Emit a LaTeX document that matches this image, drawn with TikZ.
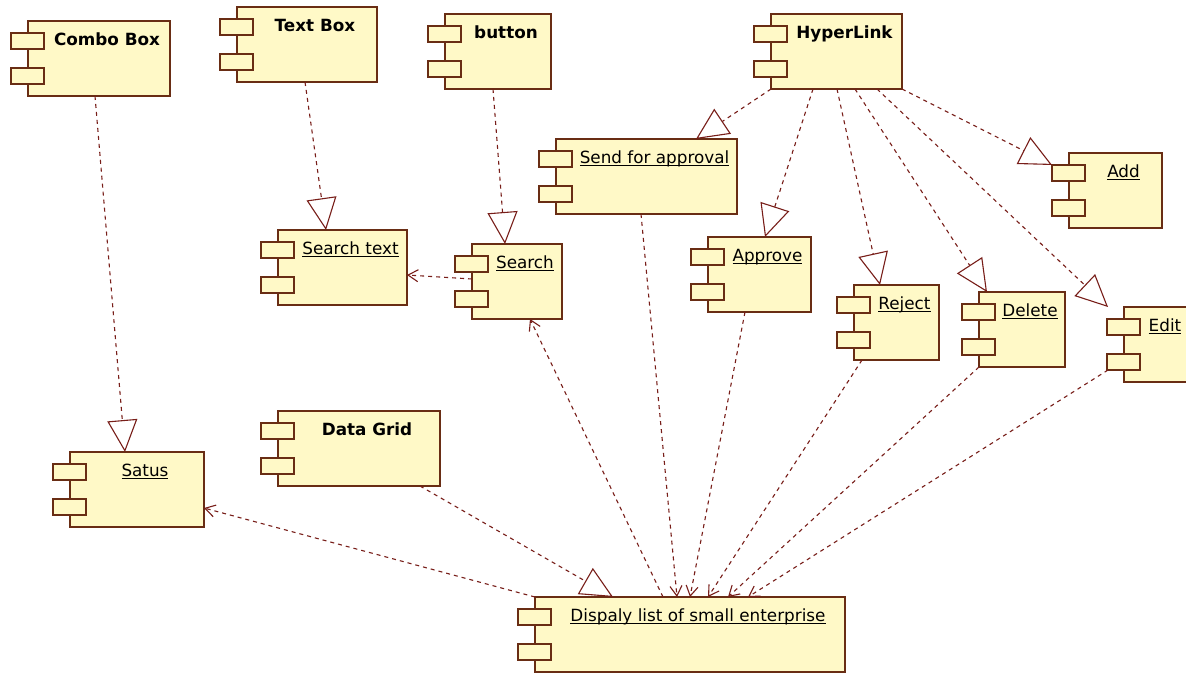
\documentclass[tikz,border=0pt]{standalone}
\usepackage{fontspec}
\setmainfont{DejaVu Sans}
\usetikzlibrary{arrows.meta,calc}

\definecolor{compfill}{RGB}{255,249,199}
\definecolor{compline}{RGB}{105,45,20}
\definecolor{linkline}{RGB}{120,30,25}

% underlined instance name, rule set just under the baseline
\newcommand\ulabel[1]{\setbox0\hbox{#1}\rlap{\rule[-2.6pt]{\wd0}{1.1pt}}\box0}

\tikzset{
  compbox/.style={rectangle, draw=compline, fill=compfill, line width=1.4pt,
    minimum height=75pt, inner sep=0pt, outer sep=0pt},
  compport/.style={draw=compline, fill=compfill, line width=1.4pt},
  typelabel/.style={anchor=base, inner sep=0pt, font=\fontsize{16.8}{19}\selectfont\bfseries},
  instlabel/.style={anchor=base, inner sep=0pt, font=\fontsize{16.8}{19}\selectfont},
  depend/.style={draw=linkline, line width=1.1pt, dash pattern=on 4pt off 4pt},
  realize/.style={depend, -{Triangle[open, length=32pt, width=30pt, line width=1.1pt]}},
  uses/.style={depend, -{Straight Barb[length=10pt, width=12pt, line width=1.1pt]}},
}

% component: name, left, top, width, label style, label text
\newcommand\umlcomp[6]{%
  \node[compbox, minimum width=#4pt, anchor=north west] (#1) at (#2,#3) {};
  \draw[compport] ($(#1.north west)+(-17,12)$) rectangle +(33,16);
  \draw[compport] ($(#1.north west)+(-17,47)$) rectangle +(33,16);
  \node[#5] (#1-text) at ($(#1.north west)+(8+#4/2,24)$) {#6};
}

\begin{document}
\begin{tikzpicture}[x=1pt, y=-1pt]
\useasboundingbox (0,0) rectangle (1186,675);
\fill[white] (0,0) rectangle (1186,675);
\clip (0,0) rectangle (1186,675);

% components
\umlcomp{combo}{28}{21}{142}{typelabel}{Combo Box}
\umlcomp{textbox}{237}{7}{140}{typelabel}{Text Box}
\umlcomp{button}{445}{14}{106}{typelabel}{button}
\umlcomp{hyper}{771}{14}{131}{typelabel}{HyperLink}
\umlcomp{send}{556}{139}{181}{instlabel}{\ulabel{Send for approval}}
\umlcomp{searchtext}{278}{230}{129}{instlabel}{\ulabel{Search text}}
\umlcomp{search}{472}{244}{90}{instlabel}{\ulabel{Search}}
\umlcomp{approve}{708}{237}{103}{instlabel}{\ulabel{Approve}}
\umlcomp{reject}{854}{285}{85}{instlabel}{\ulabel{Reject}}
\umlcomp{add}{1069}{153}{93}{instlabel}{\ulabel{Add}}
\umlcomp{delete}{979}{292}{86}{instlabel}{\ulabel{Delete}}
\umlcomp{edit}{1124}{307}{66}{instlabel}{\ulabel{Edit}}
\umlcomp{satus}{70}{452}{134}{instlabel}{\ulabel{Satus}}
\umlcomp{datagrid}{278}{411}{162}{typelabel}{Data Grid}
\umlcomp{list}{535}{597}{310}{instlabel}{\ulabel{Dispaly list of small enterprise}}

% realizations (hollow triangle heads)
\draw[realize] ($(combo.north west)+(67,75)$) -- ($(satus.north west)+(55,0)$);
\draw[realize] ($(textbox.north west)+(68,75)$) -- ($(searchtext.north west)+(48,0)$);
\draw[realize] ($(button.north west)+(48,75)$) -- ($(search.north west)+(33,0)$);
\draw[realize] ($(hyper.north west)+(0,75)$) -- ($(send.north west)+(140,0)$);
\draw[realize] ($(hyper.north west)+(42,75)$) -- ($(approve.north west)+(57,0)$);
\draw[realize] ($(hyper.north west)+(66,75)$) -- ($(reject.north west)+(26,0)$);
\draw[realize] ($(hyper.north west)+(84,75)$) -- ($(delete.north west)+(8,0)$);
\draw[realize] ($(hyper.north west)+(106,75)$) -- ($(edit.north west)+(-16,0)$);
\draw[realize] ($(hyper.north west)+(131,75)$) -- ($(add.north west)+(-17,12)$);
\draw[realize] ($(datagrid.north west)+(142,75)$) -- ($(list.north west)+(78,0)$);

% dependencies (open arrow heads)
\draw[uses] ($(search.north west)+(0,35)$) -- ($(searchtext.north west)+(129,45)$);
\draw[uses] (list.north west) -- ($(satus.north west)+(134,56)$);
\draw[uses] ($(list.north west)+(128,0)$) -- ($(search.north west)+(58,75)$);
\draw[uses] ($(send.north west)+(85,75)$) -- ($(list.north west)+(142,0)$);
\draw[uses] ($(approve.north west)+(37,75)$) -- ($(list.north west)+(155,0)$);
\draw[uses] ($(reject.north west)+(8,75)$) -- ($(list.north west)+(173,0)$);
\draw[uses] ($(delete.north west)+(0,75)$) -- ($(list.north west)+(193,0)$);
\draw[uses] ($(edit.north west)+(-16,63)$) -- ($(list.north west)+(213,0)$);
\end{tikzpicture}
\end{document}
